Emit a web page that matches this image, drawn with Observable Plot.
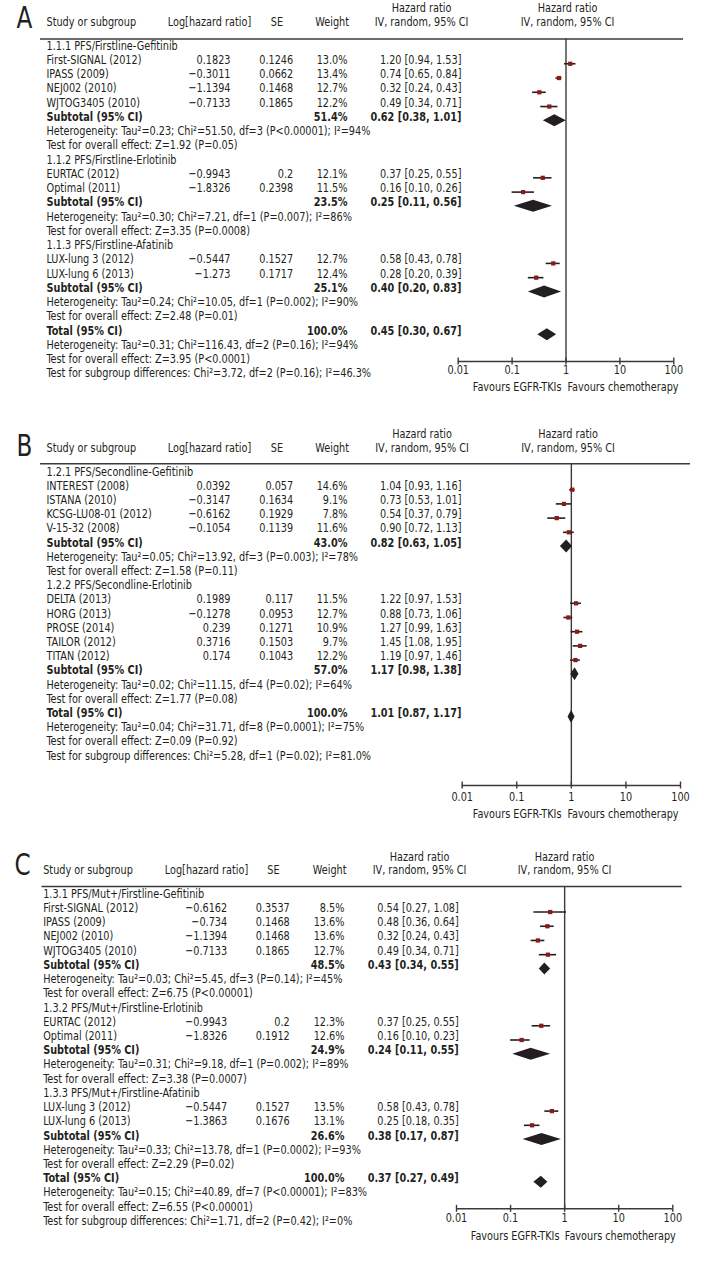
<!DOCTYPE html>
<html><head><meta charset="utf-8">
<script src="https://cdn.jsdelivr.net/npm/d3@7"></script>
<script src="https://cdn.jsdelivr.net/npm/@observablehq/plot@0.6"></script>
<style>
body{margin:0;background:#fff;}
#chart{width:720px;}
#chart svg{display:block;}
</style></head><body><div id="chart"></div>
<script>
// ---------- shared labels ----------
const panelLetters = ["A", "B", "C"];
const headerCols = ["Study or subgroup", "Log[hazard ratio]", "SE", "Weight"];
const headerHr = ["Hazard ratio", "IV, random, 95% CI"];
const axisTicks = [0.01, 0.1, 1, 10, 100];
const favours = ["Favours EGFR-TKIs", "Favours chemotherapy"];
const subtotalLabel = "Subtotal (95% CI)";
const totalLabel = "Total (95% CI)";

// ---------- panel A ----------
const groupsA = ["1.1.1 PFS/Firstline-Gefitinib", "1.1.2 PFS/Firstline-Erlotinib", "1.1.3 PFS/Firstline-Afatinib"];
const studiesA = ["First-SIGNAL (2012)", "IPASS (2009)", "NEJ002 (2010)", "WJTOG3405 (2010)", "EURTAC (2012)", "Optimal (2011)", "LUX-lung 3 (2012)", "LUX-lung 6 (2013)"];
const studyGroupA = [0, 0, 0, 0, 1, 1, 2, 2];
const logHrA = [0.1823, -0.3011, -1.1394, -0.7133, -0.9943, -1.8326, -0.5447, -1.273];
const seA = [0.1246, 0.0662, 0.1468, 0.1865, 0.2, 0.2398, 0.1527, 0.1717];
const weightA = [13.0, 13.4, 12.7, 12.2, 12.1, 11.5, 12.7, 12.4];
const hrA = [1.20, 0.74, 0.32, 0.49, 0.37, 0.16, 0.58, 0.28];
const loA = [0.94, 0.65, 0.24, 0.34, 0.25, 0.10, 0.43, 0.20];
const hiA = [1.53, 0.84, 0.43, 0.71, 0.55, 0.26, 0.78, 0.39];
const subWeightA = [51.4, 23.5, 25.1];
const subHrA = [0.62, 0.25, 0.40];
const subLoA = [0.38, 0.11, 0.20];
const subHiA = [1.01, 0.56, 0.83];
const subHetA = [
  "Heterogeneity: Tau\u00b2=0.23; Chi\u00b2=51.50, df=3 (P<0.00001); I\u00b2=94%",
  "Heterogeneity: Tau\u00b2=0.30; Chi\u00b2=7.21, df=1 (P=0.007); I\u00b2=86%",
  "Heterogeneity: Tau\u00b2=0.24; Chi\u00b2=10.05, df=1 (P=0.002); I\u00b2=90%"];
const subTestA = ["Test for overall effect: Z=1.92 (P=0.05)", "Test for overall effect: Z=3.35 (P=0.0008)", "Test for overall effect: Z=2.48 (P=0.01)"];
const totalA = [100.0, 0.45, 0.30, 0.67];
const totalTextA = [
  "Heterogeneity: Tau\u00b2=0.31; Chi\u00b2=116.43, df=2 (P=0.16); I\u00b2=94%",
  "Test for overall effect: Z=3.95 (P<0.0001)",
  "Test for subgroup differences: Chi\u00b2=3.72, df=2 (P=0.16); I\u00b2=46.3%"];

// ---------- panel B ----------
const groupsB = ["1.2.1 PFS/Secondline-Gefitinib", "1.2.2 PFS/Secondline-Erlotinib"];
const studiesB = ["INTEREST (2008)", "ISTANA (2010)", "KCSG-LU08-01 (2012)", "V-15-32 (2008)", "DELTA (2013)", "HORG (2013)", "PROSE (2014)", "TAILOR (2012)", "TITAN (2012)"];
const studyGroupB = [0, 0, 0, 0, 1, 1, 1, 1, 1];
const logHrB = [0.0392, -0.3147, -0.6162, -0.1054, 0.1989, -0.1278, 0.239, 0.3716, 0.174];
const seB = [0.057, 0.1634, 0.1929, 0.1139, 0.117, 0.0953, 0.1271, 0.1503, 0.1043];
const weightB = [14.6, 9.1, 7.8, 11.6, 11.5, 12.7, 10.9, 9.7, 12.2];
const hrB = [1.04, 0.73, 0.54, 0.90, 1.22, 0.88, 1.27, 1.45, 1.19];
const loB = [0.93, 0.53, 0.37, 0.72, 0.97, 0.73, 0.99, 1.08, 0.97];
const hiB = [1.16, 1.01, 0.79, 1.13, 1.53, 1.06, 1.63, 1.95, 1.46];
const subWeightB = [43.0, 57.0];
const subHrB = [0.82, 1.17];
const subLoB = [0.63, 0.98];
const subHiB = [1.05, 1.38];
const subHetB = [
  "Heterogeneity: Tau\u00b2=0.05; Chi\u00b2=13.92, df=3 (P=0.003); I\u00b2=78%",
  "Heterogeneity: Tau\u00b2=0.02; Chi\u00b2=11.15, df=4 (P=0.02); I\u00b2=64%"];
const subTestB = ["Test for overall effect: Z=1.58 (P=0.11)", "Test for overall effect: Z=1.77 (P=0.08)"];
const totalB = [100.0, 1.01, 0.87, 1.17];
const totalTextB = [
  "Heterogeneity: Tau\u00b2=0.04; Chi\u00b2=31.71, df=8 (P=0.0001); I\u00b2=75%",
  "Test for overall effect: Z=0.09 (P=0.92)",
  "Test for subgroup differences: Chi\u00b2=5.28, df=1 (P=0.02); I\u00b2=81.0%"];

// ---------- panel C ----------
const groupsC = ["1.3.1 PFS/Mut+/Firstline-Gefitinib", "1.3.2 PFS/Mut+/Firstline-Erlotinib", "1.3.3 PFS/Mut+/Firstline-Afatinib"];
const studiesC = ["First-SIGNAL (2012)", "IPASS (2009)", "NEJ002 (2010)", "WJTOG3405 (2010)", "EURTAC (2012)", "Optimal (2011)", "LUX-lung 3 (2012)", "LUX-lung 6 (2013)"];
const studyGroupC = [0, 0, 0, 0, 1, 1, 2, 2];
const logHrC = [-0.6162, -0.734, -1.1394, -0.7133, -0.9943, -1.8326, -0.5447, -1.3863];
const seC = [0.3537, 0.1468, 0.1468, 0.1865, 0.2, 0.1912, 0.1527, 0.1676];
const weightC = [8.5, 13.6, 13.6, 12.7, 12.3, 12.6, 13.5, 13.1];
const hrC = [0.54, 0.48, 0.32, 0.49, 0.37, 0.16, 0.58, 0.25];
const loC = [0.27, 0.36, 0.24, 0.34, 0.25, 0.10, 0.43, 0.18];
const hiC = [1.08, 0.64, 0.43, 0.71, 0.55, 0.23, 0.78, 0.35];
const subWeightC = [48.5, 24.9, 26.6];
const subHrC = [0.43, 0.24, 0.38];
const subLoC = [0.34, 0.11, 0.17];
const subHiC = [0.55, 0.55, 0.87];
const subHetC = [
  "Heterogeneity: Tau\u00b2=0.03; Chi\u00b2=5.45, df=3 (P=0.14); I\u00b2=45%",
  "Heterogeneity: Tau\u00b2=0.31; Chi\u00b2=9.18, df=1 (P=0.002); I\u00b2=89%",
  "Heterogeneity: Tau\u00b2=0.33; Chi\u00b2=13.78, df=1 (P=0.0002); I\u00b2=93%"];
const subTestC = ["Test for overall effect: Z=6.75 (P<0.00001)", "Test for overall effect: Z=3.38 (P=0.0007)", "Test for overall effect: Z=2.29 (P=0.02)"];
const totalC = [100.0, 0.37, 0.27, 0.49];
const totalTextC = [
  "Heterogeneity: Tau\u00b2=0.15; Chi\u00b2=40.89, df=7 (P<0.00001); I\u00b2=83%",
  "Test for overall effect: Z=6.55 (P<0.00001)",
  "Test for subgroup differences: Chi\u00b2=1.71, df=2 (P=0.42); I\u00b2=0%"];

// ---------- assembly ----------
const panels = [
  {groups: groupsA, studies: studiesA, group: studyGroupA, logHr: logHrA, se: seA, weight: weightA, hr: hrA, lo: loA, hi: hiA,
   subW: subWeightA, subHr: subHrA, subLo: subLoA, subHi: subHiA, subHet: subHetA, subTest: subTestA, total: totalA, totalText: totalTextA},
  {groups: groupsB, studies: studiesB, group: studyGroupB, logHr: logHrB, se: seB, weight: weightB, hr: hrB, lo: loB, hi: hiB,
   subW: subWeightB, subHr: subHrB, subLo: subLoB, subHi: subHiB, subHet: subHetB, subTest: subTestB, total: totalB, totalText: totalTextB},
  {groups: groupsC, studies: studiesC, group: studyGroupC, logHr: logHrC, se: seC, weight: weightC, hr: hrC, lo: loC, hi: hiC,
   subW: subWeightC, subHr: subHrC, subLo: subLoC, subHi: subHiC, subHet: subHetC, subTest: subTestC, total: totalC, totalText: totalTextC}
];

// layout (pixels, panel-relative)
const layouts = [
  {height: 415, row0: 49, rowH: 14.26, ml: 40, mr: 37, xr: [457.7, 673.3],
   cols: {study: 46, log: 230, se: 292.7, w: 347, hr: 461}, hdr: {log: 209, se: 276.5, w: 348.5, hr: 421, graph: 567},
   letterX: 24, yLetter: 27, yHead1: 11, yHead2: 25.5, yLine: 38.5, yAxis: 361, yTick: 373, yFav: 390.7, fav: [561, 567], dh: 6},
  {height: 420, row0: 60, rowH: 14.2, ml: 40, mr: 30, xr: [461.7, 680],
   cols: {study: 46, log: 230, se: 292.7, w: 347, hr: 461}, hdr: {log: 209, se: 276.5, w: 348.5, hr: 421.5, graph: 567.5},
   letterX: 24, yLetter: 40, yHead1: 22.3, yHead2: 36.7, yLine: 48.3, yAxis: 370, yTick: 385, yFav: 402.5, fav: [561, 567], dh: 6.5},
  {height: 435, row0: 62.3, rowH: 14.22, ml: 41.5, mr: 38.3, xr: [456, 672.3],
   cols: {study: 42.7, log: 226.7, se: 289.3, w: 344, hr: 458.3}, hdr: {log: 206, se: 273, w: 346, hr: 419, graph: 564},
   letterX: 22, yLetter: 39, yHead1: 25, yHead2: 38.3, yLine: 51, yAxis: 373.3, yTick: 386.7, yFav: 404.3, fav: [559, 564.3], dh: 6}
];

const FONT = "'DejaVu Sans Condensed','DejaVu Sans',sans-serif";
const FONT_SIZE = 13;
const SQUEEZE = 0.83;   // horizontal condensing of all text, like the reference's condensed face
const INK = "#231f20";
const SQUARE = "#8b1a1a";
const AXIS = "#3a3a3a";

const fmtNum = v => String(v).replace("-", "\u2212");
const fmtCI = (h, l, u) => `${h.toFixed(2)} [${l.toFixed(2)}, ${u.toFixed(2)}]`;

function condense(svg) {
  svg.querySelectorAll("text").forEach(el => {
    const x = +el.getAttribute("x") || 0, y = +el.getAttribute("y") || 0;
    el.removeAttribute("x"); el.removeAttribute("y");
    const t = el.getAttribute("transform") || "";
    el.setAttribute("transform", `${t} translate(${x},${y}) scale(${SQUEEZE},1)`);
  });
  return svg;
}

function buildPanel(P, L, letter) {
  const toRow = px => (px - L.row0) / L.rowH;
  const lines = [], pts = [], dia = [];
  let r = 0;
  const add = (col, text, bold = false) => lines.push({r, col, text, bold});
  P.groups.forEach((g, gi) => {
    add("study", g); r++;
    P.studies.forEach((s, i) => {
      if (P.group[i] !== gi) return;
      add("study", s);
      add("log", fmtNum(P.logHr[i]));
      add("se", String(P.se[i]));
      add("w", P.weight[i].toFixed(1) + "%");
      add("hr", fmtCI(P.hr[i], P.lo[i], P.hi[i]));
      pts.push({r, hr: P.hr[i], lo: P.lo[i], hi: P.hi[i]});
      r++;
    });
    add("study", subtotalLabel, true);
    add("w", P.subW[gi].toFixed(1) + "%", true);
    add("hr", fmtCI(P.subHr[gi], P.subLo[gi], P.subHi[gi]), true);
    dia.push({id: "s" + gi, r, hr: P.subHr[gi], lo: P.subLo[gi], hi: P.subHi[gi]});
    r++;
    add("study", P.subHet[gi]); r++;
    add("study", P.subTest[gi]); r++;
  });
  add("study", totalLabel, true);
  add("w", P.total[0].toFixed(1) + "%", true);
  add("hr", fmtCI(P.total[1], P.total[2], P.total[3]), true);
  dia.push({id: "t", r, hr: P.total[1], lo: P.total[2], hi: P.total[3]});
  r++;
  P.totalText.forEach(t => { add("study", t); r++; });

  const h = L.dh / L.rowH;
  const diaPts = dia.flatMap(d => [
    {id: d.id, x: d.lo, y1: d.r, y2: d.r},
    {id: d.id, x: d.hr, y1: d.r - h, y2: d.r + h},
    {id: d.id, x: d.hi, y1: d.r, y2: d.r}
  ]);

  const marks = [];
  const anchors = {study: "start", log: "end", se: "end", w: "end", hr: "end"};
  for (const col of Object.keys(anchors)) {
    for (const bold of [false, true]) {
      const data = lines.filter(d => d.col === col && d.bold === bold);
      if (!data.length) continue;
      marks.push(Plot.text(data, {y: "r", text: "text", frameAnchor: "left", dx: L.cols[col] - L.ml,
        textAnchor: anchors[col], fontWeight: bold ? "bold" : "normal", fill: INK}));
    }
  }
  const yH1 = toRow(L.yHead1), yH2 = toRow(L.yHead2), yLine = toRow(L.yLine), yAxis = toRow(L.yAxis);
  // header
  marks.push(
    Plot.text([letter], {y: () => toRow(L.yLetter), text: d => d, frameAnchor: "left", dx: L.letterX - L.ml, textAnchor: "middle", fontSize: 31, fill: INK}),
    Plot.text([headerCols[0]], {y: () => yH2, text: d => d, frameAnchor: "left", dx: L.cols.study - L.ml, textAnchor: "start", fill: INK}),
    Plot.text([headerCols[1]], {y: () => yH2, text: d => d, frameAnchor: "left", dx: L.hdr.log - L.ml, textAnchor: "middle", fill: INK}),
    Plot.text([headerCols[2]], {y: () => yH2, text: d => d, frameAnchor: "left", dx: L.hdr.se - L.ml, textAnchor: "middle", fill: INK}),
    Plot.text([headerCols[3]], {y: () => yH2, text: d => d, frameAnchor: "left", dx: L.hdr.w - L.ml, textAnchor: "end", fill: INK}),
    Plot.text(headerHr, {y: (d, i) => i === 0 ? yH1 : yH2, text: d => d, frameAnchor: "left", dx: L.hdr.hr - L.ml, textAnchor: "middle", fill: INK}),
    Plot.text(headerHr, {y: (d, i) => i === 0 ? yH1 : yH2, text: d => d, frameAnchor: "left", dx: L.hdr.graph - L.ml, textAnchor: "middle", fill: INK}),
    Plot.ruleY([yLine], {stroke: AXIS, strokeWidth: 1.6})
  );
  // graph
  marks.push(
    Plot.ruleX([1], {y1: () => yLine, y2: () => yAxis, stroke: AXIS, strokeWidth: 1.4}),
    Plot.ruleY([yAxis], {x1: () => axisTicks[0], x2: () => axisTicks[axisTicks.length - 1], stroke: AXIS, strokeWidth: 1.4}),
    Plot.ruleX(axisTicks, {x: d => d, y1: () => toRow(L.yAxis - 3.5), y2: () => toRow(L.yAxis + 3.5), stroke: AXIS, strokeWidth: 1.4}),
    Plot.text(axisTicks, {x: d => d, y: () => toRow(L.yTick), text: d => String(d), fill: INK}),
    Plot.text([favours[0]], {y: () => toRow(L.yFav), text: d => d, frameAnchor: "left", dx: L.fav[0] - L.ml, textAnchor: "end", fill: INK}),
    Plot.text([favours[1]], {y: () => toRow(L.yFav), text: d => d, frameAnchor: "left", dx: L.fav[1] - L.ml, textAnchor: "start", fill: INK}),
    Plot.ruleY(pts, {y: "r", x1: "lo", x2: "hi", stroke: INK, strokeWidth: 1.6}),
    Plot.dot(pts, {x: "hr", y: "r", symbol: "square", r: 2.4, fill: SQUARE, stroke: "none"}),
    Plot.areaY(diaPts, {x: "x", y1: "y1", y2: "y2", z: "id", fill: INK, curve: "linear"})
  );

  return condense(Plot.plot({
    width: 720, height: L.height,
    marginLeft: L.ml, marginRight: L.mr, marginTop: 0, marginBottom: 0,
    x: {type: "log", domain: [axisTicks[0], axisTicks[axisTicks.length - 1]], range: L.xr, axis: null},
    y: {type: "linear", domain: [toRow(0), toRow(L.height)], range: [0, L.height], axis: null},
    style: {fontFamily: FONT, fontSize: FONT_SIZE + "px", color: INK, background: "#fff", overflow: "visible"},
    marks
  }));
}

const root = document.getElementById("chart");
panels.forEach((P, i) => root.appendChild(buildPanel(P, layouts[i], panelLetters[i])));
</script></body></html>
